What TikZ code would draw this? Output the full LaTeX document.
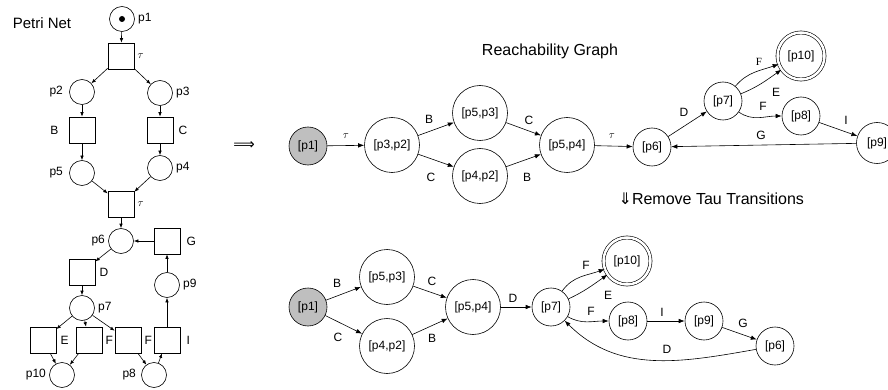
\documentclass[tikz,border=0pt]{standalone}
\usepackage{fontspec}
\setmainfont{Liberation Sans}
\newfontfamily\seriffont{Liberation Serif}
\newfontfamily\symfont{DejaVu Sans}
\usetikzlibrary{arrows.meta}

\tikzset{
  place/.style={circle, draw, minimum size=25pt, inner sep=0pt},
  trans/.style={rectangle, draw, minimum size=26pt, inner sep=0pt},
  state/.style={circle, draw, minimum size=38pt, inner sep=0pt, font=\fontsize{12}{14}\selectfont},
  bigstate/.style={state, minimum size=55pt},
  start/.style={state, fill=black!25},
  final/.style={state, double, double distance=2.5pt, minimum size=47pt},
  lbl/.style={inner sep=1pt, font=\fontsize{12}{14}\selectfont},
  tau/.style={inner sep=1pt, font=\fontsize{11}{12}\selectfont},
  title/.style={font=\fontsize{16}{18}\selectfont},
}

\begin{document}
\begin{tikzpicture}[x=1pt, y=-1pt, line width=0.6pt,
  >={Latex[length=6pt,width=4.5pt]}, small/.style={-{Latex[length=4.5pt,width=3.5pt]}},
  label distance=2pt, every label/.style={lbl}]
\useasboundingbox (0,0) rectangle (888,390);

% Petri net
\node[title, font=\fontsize{15}{17}\selectfont] (pntitle) at (42,23) {Petri Net};
\node[place, label=right:p1] (pp1) at (122,19) {};
\fill (pp1) circle (3pt);
\node[trans, label={[tau]right:$\tau$}] (tt1) at (121,56) {};
\node[place, label={[label distance=5pt]left:p2}] (pp2) at (82,92) {};
\node[place, label=right:p3] (pp3) at (160,93) {};
\node[trans, label={[label distance=9pt]left:B}] (tB) at (82,130) {};
\node[trans, label={[label distance=4pt]right:C}] (tC) at (160,130) {};
\node[place, label={[label distance=5pt]left:p5}] (pp5) at (82,173) {};
\node[place, label=right:p4] (pp4) at (160,168) {};
\node[trans, label={[tau]right:$\tau$}] (tt2) at (121,204) {};
\node[place, label=left:p6] (pp6) at (121,241) {};
\node[trans, label={[label distance=5pt]right:G}] (tG) at (167,241) {};
\node[trans, label={[label distance=3pt]right:D}] (tD) at (82,272) {};
\node[place, label=right:p9] (pp9) at (167,285) {};
\node[place, label=right:p7] (pp7) at (82,308) {};
\node[trans, label={[label distance=3pt]right:E}] (tE) at (43,340) {};
\node[trans, label=right:F] (tF1) at (89,340) {};
\node[trans, label=right:F] (tF2) at (128,340) {};
\node[trans, label={[label distance=5pt]right:I}] (tI) at (167,340) {};
\node[place, label=left:p10] (pp10) at (62,375) {};
\node[place, label={[label distance=4pt]left:p8}] (pp8) at (154,375) {};

\draw[small] (pp1) -- (tt1);
\draw[small] (tt1) -- (pp2);
\draw[small] (tt1) -- (pp3);
\draw[small] (pp2) -- (tB);
\draw[small] (pp3) -- (tC);
\draw[small] (tB) -- (pp5);
\draw[small] (tC) -- (pp4);
\draw[small] (pp5) -- (tt2);
\draw[small] (pp4) -- (tt2);
\draw[small] (tt2) -- (pp6);
\draw[small] (tG) -- (pp6);
\draw[small] (pp6) -- (tD);
\draw[small] (tD) -- (pp7);
\draw[small] (pp7) -- (tE);
\draw[small] (pp7) -- (tF1);
\draw[small] (pp7) -- (tF2);
\draw[small] (tE) -- (pp10);
\draw[small] (tF1) -- (pp10);
\draw[small] (tF2) -- (pp8);
\draw[small] (pp8) -- (tI);
\draw[small] (tI) -- (pp9);
\draw[small] (pp9) -- (tG);

\node[font=\symfont\fontsize{15}{17}\selectfont, inner sep=0pt] (implies) at (244,146) {⟹};

% Reachability graph
\node[title] (rgtitle) at (550,51) {Reachability Graph};
\node[start] (a1) at (308,146) {[p1]};
\node[bigstate] (a32) at (392,145) {[p3,p2]};
\node[bigstate] (a53) at (480,113) {[p5,p3]};
\node[bigstate] (a42) at (480,176) {[p4,p2]};
\node[bigstate] (a54) at (567,145) {[p5,p4]};
\node[state] (a6) at (652,147) {[p6]};
\node[state] (a7) at (723,101) {[p7]};
\node[final] (a10) at (801,56) {[p10]};
\node[state] (a8) at (801,116) {[p8]};
\node[state, minimum size=41pt] (a9) at (877,143) {[p9]};

\draw[->] (a1) -- (a32) node[tau] at (346,136) {$\tau$};
\draw[->] (a32) -- (a53) node[lbl] at (429,119) {B};
\draw[->] (a32) -- (a42) node[lbl] at (431,177) {C};
\draw[->] (a53) -- (a54) node[lbl] at (529,120) {C};
\draw[->] (a42) -- (a54) node[lbl] at (527,177) {B};
\draw[->] (a54) -- (a6) node[tau] at (612,136) {$\tau$};
\draw[->] (a6) -- (a7) node[lbl] at (684,112) {D};
\draw[->] (a7) to[out=50, in=200] (a10);
\node[lbl, font=\seriffont\fontsize{11}{12}\selectfont] (fa) at (759,62) {F};
\draw[->] (a7) to[out=22, in=215] (a10) node[lbl] at (776,92) {E};
\draw[->] (a7) to[out=-35, in=180] (a8) node[lbl] at (763,106) {F};
\draw[->] (a8) -- (a9) node[lbl] at (846,120) {I};
\draw[->] (a9) -- (a6) node[lbl] at (761,135) {G};

\node[title, anchor=west] (rmtitle) at (615,199) {{\symfont ⇓}Remove Tau Transitions};

% Graph without tau
\node[start] (b1) at (308,307) {[p1]};
\node[bigstate] (b53) at (387,277) {[p5,p3]};
\node[bigstate] (b42) at (387,346) {[p4,p2]};
\node[bigstate] (b54) at (473,307) {[p5,p4]};
\node[state] (b7) at (551,307) {[p7]};
\node[final] (b10) at (627,261) {[p10]};
\node[state] (b8) at (628,321) {[p8]};
\node[state] (b9) at (704,321) {[p9]};
\node[state] (b6) at (775,346) {[p6]};

\draw[->] (b1) -- (b53) node[lbl] at (337,283) {B};
\draw[->] (b1) -- (b42) node[lbl] at (338,337) {C};
\draw[->] (b53) -- (b54) node[lbl] at (432,281) {C};
\draw[->] (b42) -- (b54) node[lbl] at (432,338) {B};
\draw[->] (b54) -- (b7) node[lbl] at (513,298) {D};
\draw[->] (b7) to[out=55, in=200] (b10) node[lbl] at (586,265) {F};
\draw[->] (b7) to[out=25, in=215] (b10) node[lbl] at (608,295) {E};
\draw[->] (b7) to[out=-30, in=180] (b8) node[lbl] at (591,311) {F};
\draw[->] (b8) -- (b9) node[lbl] at (662,312) {I};
\draw[->] (b9) -- (b6) node[lbl] at (743,323) {G};
\draw[->] (b6) to[out=190, in=-45] (b7) node[lbl] at (667,349) {D};
\end{tikzpicture}
\end{document}
